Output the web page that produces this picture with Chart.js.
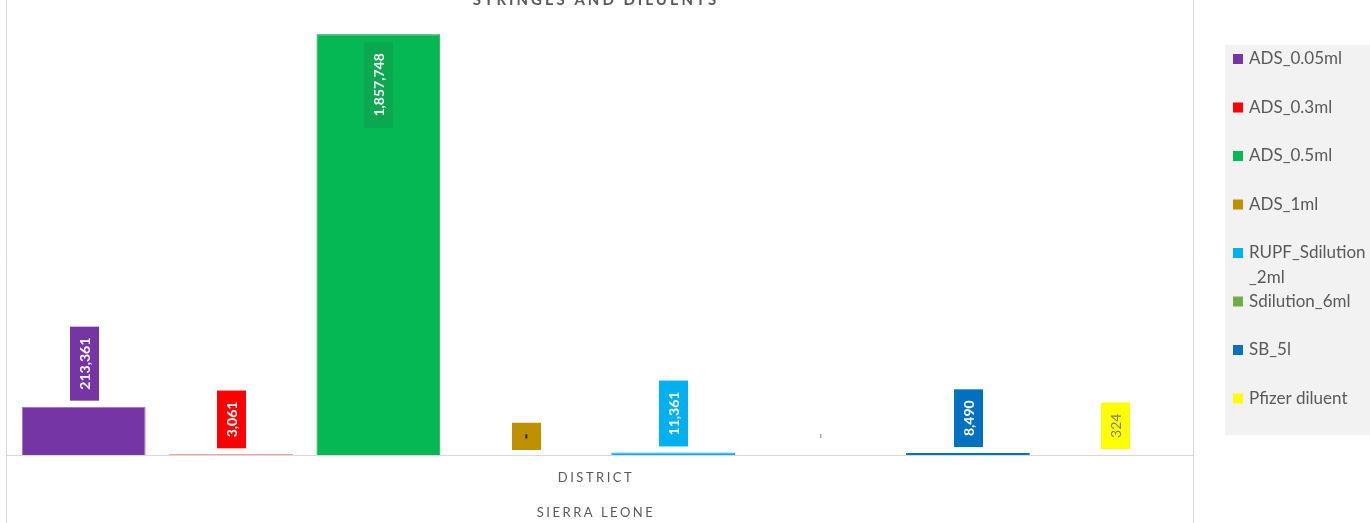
<!DOCTYPE html>
<html>
<head>
<meta charset="utf-8">
<script src="https://cdn.jsdelivr.net/npm/chart.js@4"></script>
<style>
  body { margin: 0; background: #fff; }
  #wrap { width: 1370px; height: 523px; position: relative; }
</style>
</head>
<body>
<div id="wrap"><canvas id="graficoSeringas"></canvas></div>
<script>
const categorias = ['SIERRA LEONE'];
const nomesSeries = ['ADS_0.05ml', 'ADS_0.3ml', 'ADS_0.5ml', 'ADS_1ml', 'RUPF_Sdilution_2ml', 'Sdilution_6ml', 'SB_5l', 'Pfizer diluent'];
const valoresSeries = [213361, 3061, 1857748, 0, 11361, 0, 8490, 324];
const coresSeries = ['#7535A5', '#FF0000', '#05B853', '#BF9000', '#00B0F0', '#70AD47', '#0070C0', '#FFFF00'];
const bordasSeries = ['#9a72c0', '#e06666', '#0a8f45', '#BF9000', '#00B0F0', '#70AD47', '#0070C0', '#FFFF00'];
const tituloEixo = 'DISTRICT';
const tituloGrafico = 'SYRINGES AND DILUENTS';

const cinza = '#595959';
const fonte = 'Lato, "Open Sans", sans-serif';

function fmt(v) {
  return v === 0 ? '-' : v.toLocaleString('en-US');
}

// rotulos de dados girados, com fundo da cor da serie
const rotulos = {
  id: 'rotulos',
  afterDatasetsDraw(chart) {
    const ctx = chart.ctx;
    chart.data.datasets.forEach((ds, i) => {
      const bar = chart.getDatasetMeta(i).data[0];
      const v = ds.data[0];
      const txt = fmt(v);
      const amarelo = ds.backgroundColor === '#FFFF00';
      ctx.save();
      ctx.font = (amarelo ? '' : 'bold ') + '14px ' + fonte;
      const w = ctx.measureText(txt).width;
      const alto = w + 22;
      const dentro = bar.base - bar.y > 200;
      let topo = dentro ? bar.y + 8 : bar.y - 6 - alto;
      if (v === 0 && i === 5) {
        ctx.fillStyle = '#a6a6a6';
        ctx.fillRect(bar.x - 0.5, 434, 1.5, 4);
        ctx.restore();
        return;
      }
      if (v === 0) topo = bar.base - 5 - alto;
      ctx.fillStyle = dentro ? '#0aa84f' : ds.backgroundColor;
      ctx.fillRect(Math.round(bar.x - 14), topo, 29, alto);
      ctx.translate(bar.x + 0.5, topo + alto / 2);
      ctx.rotate(-Math.PI / 2);
      ctx.fillStyle = amarelo ? '#7f7f7f' : '#fff';
      ctx.textAlign = 'center';
      ctx.textBaseline = 'middle';
      if (v === 0) {
        ctx.fillStyle = '#222';
        ctx.fillRect(-2, -1, 4, 2);
      } else {
        ctx.fillText(txt, 0, 1);
      }
      ctx.restore();
    });
  }
};

// moldura, titulos do eixo e legenda no estilo do Excel
const moldura = {
  id: 'moldura',
  beforeDraw(chart) {
    const ctx = chart.ctx;
    ctx.save();
    ctx.strokeStyle = '#d9d9d9';
    ctx.lineWidth = 1;
    ctx.beginPath();
    ctx.moveTo(6.5, 0); ctx.lineTo(6.5, 523);
    ctx.moveTo(1193.5, 0); ctx.lineTo(1193.5, 523);
    ctx.stroke();
    ctx.restore();
  },
  afterDatasetsDraw(chart) {
    const ctx = chart.ctx;
    const a = chart.chartArea;
    const cx = 596;
    ctx.save();
    ctx.strokeStyle = '#d9d9d9';
    ctx.beginPath();
    ctx.moveTo(6, a.bottom + 0.5); ctx.lineTo(1193, a.bottom + 0.5);
    ctx.stroke();

    ctx.fillStyle = cinza;
    ctx.textAlign = 'center';
    ctx.font = 'bold 15px ' + fonte;
    ctx.letterSpacing = '3px';
    ctx.textBaseline = 'alphabetic';
    ctx.fillText(tituloGrafico, cx, 5);

    ctx.font = '13px ' + fonte;
    ctx.letterSpacing = '2.5px';
    ctx.textBaseline = 'middle';
    ctx.fillText(tituloEixo, cx, 478);
    ctx.fillText(categorias[0], cx, 513);
    ctx.letterSpacing = '0px';

    // legenda
    ctx.fillStyle = '#f2f2f2';
    ctx.fillRect(1225, 45, 145, 390);
    ctx.font = '17px ' + fonte;
    ctx.textAlign = 'left';
    let y = 59;
    chart.data.datasets.forEach((ds, i) => {
      ctx.fillStyle = ds.backgroundColor;
      ctx.fillRect(1233, y - 5, 10, 10);
      ctx.fillStyle = cinza;
      const nome = ds.label;
      if (ctx.measureText(nome).width > 125) {
        const k = nome.lastIndexOf('_');
        ctx.fillText(nome.slice(0, k), 1249, y);
        ctx.fillText(nome.slice(k), 1249, y + 25);
      } else {
        ctx.fillText(nome, 1249, y);
      }
      y += 48.5;
    });
    ctx.restore();
  }
};

new Chart(document.getElementById('graficoSeringas'), {
  type: 'bar',
  data: {
    labels: categorias,
    datasets: nomesSeries.map((n, i) => ({
      label: n,
      data: [valoresSeries[i]],
      backgroundColor: coresSeries[i],
      borderColor: bordasSeries[i],
      borderWidth: 1,
      categoryPercentage: 1,
      barPercentage: 0.84
    }))
  },
  options: {
    responsive: true,
    maintainAspectRatio: false,
    animation: false,
    layout: { padding: { left: 10, right: 181, top: 2, bottom: 68 } },
    scales: {
      x: { display: false },
      y: { display: false, min: 0, max: 2000000 }
    },
    plugins: {
      legend: { display: false },
      tooltip: { enabled: false }
    }
  },
  plugins: [moldura, rotulos]
});
</script>
</body>
</html>
